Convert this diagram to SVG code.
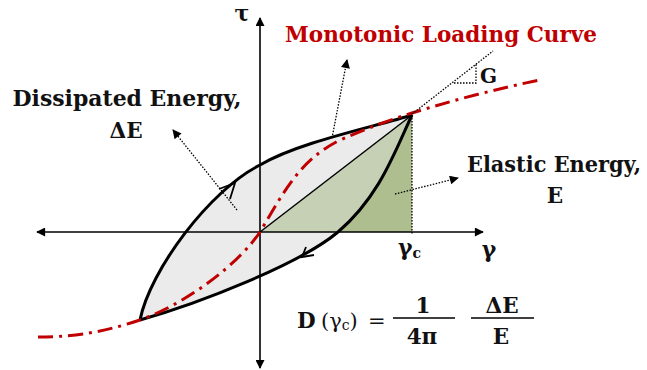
<svg xmlns="http://www.w3.org/2000/svg" width="647" height="370" viewBox="0 0 647 370">
<style>
.t{font-family:"DejaVu Serif","Liberation Serif",serif;font-weight:bold;fill:#111}
.r{font-family:"DejaVu Serif","Liberation Serif",serif;fill:#111}
.red{fill:#c00000}
.ax{stroke:#000;stroke-width:1.6;fill:none}
.dot{stroke:#000;stroke-width:1.3;stroke-dasharray:1.5 1.5;fill:none}
.curve{stroke:#000;stroke-width:3;fill:none;stroke-linejoin:round}
</style>
<defs>
<marker id="ah" viewBox="0 0 10 10" refX="9" refY="5" markerWidth="10" markerHeight="9" markerUnits="userSpaceOnUse" orient="auto">
<path d="M0,0 L10,5 L0,10 Z" fill="#000"/>
</marker>
<marker id="ahs" viewBox="0 0 10 10" refX="9" refY="5" markerWidth="11" markerHeight="9" markerUnits="userSpaceOnUse" orient="auto">
<path d="M0,0 L10,5 L0,10 Z" fill="#000"/>
</marker>
</defs>
<rect width="647" height="370" fill="#fff"/>

<g id="loop">
<path d="M140,320 C150,270 210,190 260,165 C299,142 374,127 412,115 C395,151 380,196 338,232 C300,264 200,303 140,320 Z" fill="#ebebeb"/>
</g>
<g id="elastic-region">
<path d="M260,232 L412,115 L412,232 Z" fill="#c6d0b4"/>
<path d="M412,115 C395,151 380,196 338,232 L412,232 Z" fill="#afbe8e"/>
<line x1="412" y1="115" x2="412" y2="234" class="dot"/>
</g>

<g id="axes">
<line x1="260" y1="232" x2="260" y2="18" class="ax" marker-end="url(#ah)"/>
<line x1="260" y1="232" x2="260" y2="368" class="ax" marker-end="url(#ah)"/>
<line x1="260" y1="232" x2="483" y2="232" class="ax" marker-end="url(#ah)"/>
<line x1="260" y1="232" x2="37" y2="232" class="ax" marker-end="url(#ah)"/>
</g>

<g id="connectors">
<path d="M140,320 C150,270 210,190 260,165 C299,142 374,127 412,115" class="curve"/>
<path d="M412,115 C395,151 380,196 338,232 C300,264 200,303 140,320" class="curve"/>
<path d="M219,189 L235,183 L230,199" stroke="#000" stroke-width="1.8" fill="none"/>
<path d="M306,247 L302,257 L314,255" stroke="#000" stroke-width="1.8" fill="none"/>
<line x1="260" y1="232" x2="412" y2="115" stroke="#000" stroke-width="1.5"/>
<path d="M38,337 C80,337 110,330 140,320 C190,302 240,262 260,232 C285,190 300,160 340,140 C370,127 390,120 412,113 C450,101 500,88 540,80" stroke="#c00000" stroke-width="3" fill="none" stroke-dasharray="15 6 3 6"/>
<path d="M412,114 L493,51 M454,83 L476,83 L476,64" class="dot"/>
<line x1="237" y1="210" x2="173" y2="130" class="dot" marker-end="url(#ahs)"/>
<line x1="332" y1="138" x2="347" y2="60" class="dot" marker-end="url(#ahs)"/>
<line x1="395" y1="194" x2="458" y2="178" class="dot" marker-end="url(#ahs)"/>
</g>

<g id="labels">
<text class="t" x="242" y="21" font-size="22" text-anchor="middle">τ</text>
<text class="t" x="489" y="257" font-size="22" text-anchor="middle">γ</text>
<text class="t" x="398" y="255" font-size="22" text-anchor="start">γ<tspan font-size="14" dy="3">c</tspan></text>
<text class="t" x="480" y="83" font-size="20">G</text>
</g>

<g id="monotonic-label">
<text class="t red" x="441" y="42" font-size="21.5" text-anchor="middle" textLength="312" lengthAdjust="spacingAndGlyphs">Monotonic Loading Curve</text>
</g>
<g id="dissipated-label">
<text class="t" x="127" y="106" font-size="21.5" text-anchor="middle" textLength="229" lengthAdjust="spacingAndGlyphs">Dissipated Energy,</text>
<text class="t" x="126" y="138" font-size="21.5" text-anchor="middle">ΔE</text>
</g>
<g id="elastic-label">
<text class="t" x="554" y="172" font-size="21.5" text-anchor="middle" textLength="174" lengthAdjust="spacingAndGlyphs">Elastic Energy,</text>
<text class="t" x="555" y="203" font-size="21.5" text-anchor="middle">E</text>
</g>
<g id="formula">
<text class="t" x="297" y="328" font-size="21.5">D</text>
<text class="r" x="321" y="328" font-size="21">(γ<tspan font-size="14" dy="2">c</tspan><tspan dy="-2">)</tspan></text>
<text class="r" x="368" y="328" font-size="21">=</text>
<line x1="393" y1="318" x2="455" y2="318" stroke="#000" stroke-width="1.5"/>
<text class="t" x="423" y="313" font-size="21.5" text-anchor="middle">1</text>
<text class="t" x="422" y="344" font-size="21.5" text-anchor="middle">4π</text>
<line x1="471" y1="318" x2="534" y2="318" stroke="#000" stroke-width="1.5"/>
<text class="t" x="502" y="313" font-size="21.5" text-anchor="middle">ΔE</text>
<text class="t" x="501" y="344" font-size="21.5" text-anchor="middle">E</text>
</g>
</svg>
